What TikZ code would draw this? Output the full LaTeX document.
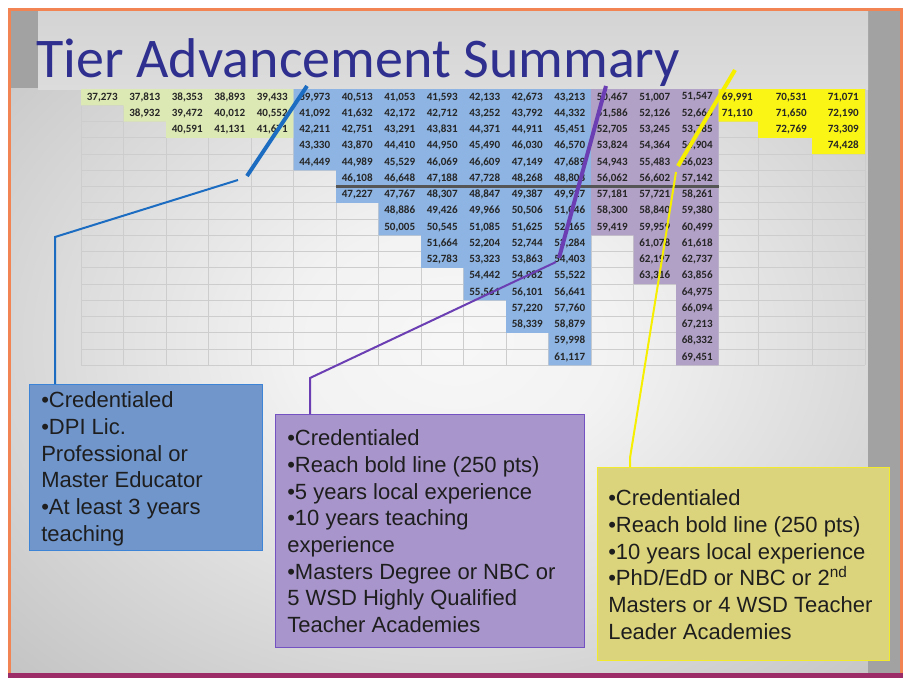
\documentclass[tikz,border=0pt]{standalone}
\usepackage{fontspec}
\setmainfont{Liberation Sans}
\newfontfamily\titlefont{Carlito}
\newfontfamily\numfont{Carlito}
\definecolor{frameor}{HTML}{F28454}
\definecolor{framemag}{HTML}{9C2C68}
\definecolor{titleblue}{HTML}{2E2F8E}
\definecolor{cgreen}{HTML}{DDE9B5}
\definecolor{cblue}{HTML}{8DB4E2}
\definecolor{cpurple}{HTML}{B2A1C7}
\definecolor{cyellow}{HTML}{FAF514}
\definecolor{gridc}{HTML}{CDCDCD}
\definecolor{numc}{HTML}{262626}
\definecolor{bluefill}{HTML}{7096CC}
\definecolor{blueedge}{HTML}{3E84D6}
\definecolor{purplefill}{HTML}{A895CB}
\definecolor{purpleedge}{HTML}{7552C2}
\definecolor{yellowfill}{HTML}{DCD47D}
\definecolor{yellowedge}{HTML}{F2EA2C}
\definecolor{lblue}{HTML}{1C6DC2}
\definecolor{lpurple}{HTML}{6B3FB3}
\definecolor{lyellow}{HTML}{F6F000}
\definecolor{boldln}{HTML}{555555}
\definecolor{boxtxt}{HTML}{1E1E1E}
\definecolor{tbarA}{HTML}{D4D4D4}
\definecolor{tbarB}{HTML}{DCDCDC}
\definecolor{stripc}{HTML}{A2A2A2}
\pgfdeclareradialshading{slidebg}{\pgfpoint{0bp}{0bp}}{color(0bp)=(white!97!black); color(9bp)=(white!95!black); color(50bp)=(black!33); color(72bp)=(black!40)}
\newcount\fmtT
\newcount\fmtR
\newcommand\fmtnum[1]{\fmtT=\numexpr(#1-500)/1000\relax\fmtR=\numexpr#1-1000*\fmtT\relax\the\fmtT,\ifnum\fmtR<100 0\fi\ifnum\fmtR<10 0\fi\the\fmtR}
\begin{document}
\begin{tikzpicture}[x=0.75pt,y=-0.75pt,
  numtext/.style={font=\numfont\bfseries\fontsize{8.3pt}{8.5pt}\selectfont, text=numc, inner sep=0pt},
  tierbox/.style={rectangle, line width=1.1pt, inner sep=0pt, anchor=north west},
  boxtext/.style={font=\fontsize{16.5pt}{20pt}\selectfont, text=boxtxt, align=left, inner sep=0pt, anchor=north west},
  thinln/.style={line width=1.5pt},
  thickln/.style={line width=3pt}]
\useasboundingbox (0,0) rectangle (908,678);
\fill[white] (0,0) rectangle (908,678);
% slide background
\shade[shading=slidebg] (11,11) rectangle (900,673);
\fill[stripc] (868,11) rectangle (900,673);
\fill[stripc] (11,11) rectangle (38,88);
\shade[top color=tbarA, bottom color=tbarB] (38,11) rectangle (868,89);
% frame
\draw[frameor, line width=2.25pt] (9.5,673) -- (9.5,9.5) -- (901.5,9.5) -- (901.5,673);
\draw[framemag, line width=3.5pt] (8,675.5) -- (903,675.5);
% title
\node[anchor=base west, font=\titlefont\fontsize{42pt}{42pt}\selectfont, text=titleblue, inner sep=0pt] (title) at (36,77) {Tier Advancement Summary};
% grid
\foreach \gx in {81,123.5,166,208.5,251,293.5,336,378.5,421,463.5,506,548.5,591,633.5,676,718.5,758,812,865}
  \draw[gridc, line width=0.7pt] (\gx,89) -- (\gx,365.25);
\foreach \gr in {0,...,17}
  \draw[gridc, line width=0.7pt] (81,{89+\gr*16.25}) -- (865,{89+\gr*16.25});
% tier fills
\fill[cgreen] (81,89) -- (293.5,89) -- (293.5,137.75) -- (166,137.75) -- (166,121.5) -- (123.5,121.5) -- (123.5,105.25) -- (81,105.25) -- cycle;
\fill[cblue] (293.5,89) -- (591,89) -- (591,365.25) -- (548.5,365.25) -- (548.5,332.75) -- (506,332.75) -- (506,300.25) -- (463.5,300.25) -- (463.5,267.75) -- (421,267.75) -- (421,235.25) -- (378.5,235.25) -- (378.5,202.75) -- (336,202.75) -- (336,170.25) -- (293.5,170.25) -- cycle;
\fill[cpurple] (591,89) -- (718.5,89) -- (718.5,365.25) -- (676,365.25) -- (676,284) -- (633.5,284) -- (633.5,235.25) -- (591,235.25) -- cycle;
\fill[cyellow] (718.5,89) -- (865,89) -- (865,154) -- (812,154) -- (812,137.75) -- (758,137.75) -- (758,121.5) -- (718.5,121.5) -- cycle;
% numbers
\foreach \col/\nr/\off in {1/1/0,2/2/0,3/3/0,4/3/0,5/3/0,6/5/0,7/7/0,8/9/0,9/11/0,10/13/0,11/15/0,12/17/0,13/9/6714,14/12/6714,15/17/6714}
  \foreach \rw in {1,...,\nr}
    \node[numtext] (v-\col-\rw) at ({81+(\col-0.5)*42.5},{89+(\rw-0.5)*16.25}) {\fmtnum{37273+(\col-1)*540+(\rw-1)*1119+\off}};
\foreach \col/\nr/\xr in {16/2/753,17/3/807,18/4/859}
  \foreach \rw in {1,...,\nr}
    \node[numtext, anchor=east] (v-\col-\rw) at (\xr,{89+(\rw-0.5)*16.25}) {\fmtnum{69991+(\col-16)*540+(\rw-1)*1119}};
% bold line
\coordinate (boldA) at (336,186.5);
\coordinate (boldB) at (718.5,186.5);
\draw[boldln, line width=1.9pt] (boldA) -- (boldB);
% connector coordinates
\coordinate (bA) at (55,237);
\coordinate (bB) at (238,180);
\coordinate (bC) at (247,176);
\coordinate (bD) at (307,86);
\coordinate (pA) at (310,378);
\coordinate (pB) at (556,262);
\coordinate (pC) at (559,258);
\coordinate (pD) at (606,86);
\coordinate (yA) at (630,458);
\coordinate (yB) at (676,172);
\coordinate (yC) at (678,166);
\coordinate (yD) at (735,70);
% boxes
\node[tierbox, fill=bluefill, draw=blueedge, minimum width=174.75pt, minimum height=124.5pt] (bbox) at (29,384) {};
\node[tierbox, fill=purplefill, draw=purpleedge, minimum width=231.75pt, minimum height=174.75pt] (pbox) at (275,414) {};
\node[tierbox, fill=yellowfill, draw=yellowedge, minimum width=219pt, minimum height=144.75pt] (ybox) at (597,467) {};
% connectors
\draw[lblue, thinln] (bbox.north -| bA) -- (bA) -- (bB);
\draw[lblue, thickln] (bC) -- (bD);
\draw[lpurple, thinln] (pbox.north -| pA) -- (pA) -- (pB);
\draw[lpurple, thickln] (pC) -- (pD);
\draw[lyellow, thinln] (ybox.north -| yA) -- (yA) -- (yB);
\draw[lyellow, thickln] (yC) -- (yD);
% box texts
\node[boxtext] (btext) at (41,391.5) {•Credentialed\\•DPI Lic.\\Professional or\\Master Educator\\•At least 3 years\\teaching};
\node[boxtext] (ptext) at (287,429.5) {•Credentialed\\•Reach bold line (250 pts)\\•5 years local experience\\•10 years teaching\\experience\\•Masters Degree or NBC or\\5 WSD Highly Qualified\\Teacher Academies};
\node[boxtext] (ytext) at (608,489.5) {•Credentialed\\•Reach bold line (250 pts)\\•10 years local experience\\•PhD/EdD or NBC or 2\textsuperscript{nd}\\Masters or 4 WSD Teacher\\Leader Academies};
\end{tikzpicture}
\end{document}
